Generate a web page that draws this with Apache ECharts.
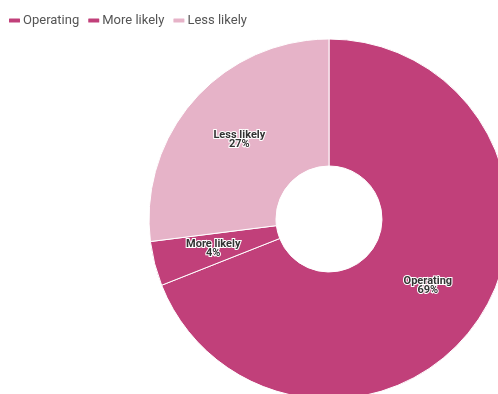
<!DOCTYPE html>
<html>
<head>
<meta charset="utf-8">
<script src="https://cdn.jsdelivr.net/npm/echarts@6/dist/echarts.min.js"></script>
<style>
  html, body { margin: 0; padding: 0; background: #fff; }
  #chart { width: 498px; height: 394px; }
</style>
</head>
<body>
<div id="chart"></div>
<script>
// Share of responses by category
const categories = ['Operating', 'More likely', 'Less likely'];
const shares = [69, 4, 27];
const colors = ['#c1407a', '#c1407a', '#e6b3c8'];

const chart = echarts.init(document.getElementById('chart'));
chart.setOption({
  animation: false,
  textStyle: { fontFamily: 'Roboto' },
  legend: {
    left: 2,
    top: 9,
    itemWidth: 13,
    itemHeight: 6,
    itemGap: 7,
    icon: 'roundRect',
    textStyle: { fontSize: 13, color: '#555', padding: [0, 0, 0, -3] },
    data: categories
  },
  series: [{
    type: 'pie',
    center: [329, 219],
    radius: [53, 180],
    startAngle: 90,
    clockwise: true,
    itemStyle: { borderColor: '#fff', borderWidth: 1 },
    label: {
      position: 'inside',
      formatter: '{b}\n{d}%',
      fontSize: 11,
      fontWeight: 'bold',
      lineHeight: 9,
      color: '#333',
      textBorderColor: '#fff',
      textBorderWidth: 2
    },
    labelLine: { show: false },
    data: categories.map((name, i) => ({
      name,
      value: shares[i],
      itemStyle: { color: colors[i] }
    }))
  }]
});
</script>
</body>
</html>
